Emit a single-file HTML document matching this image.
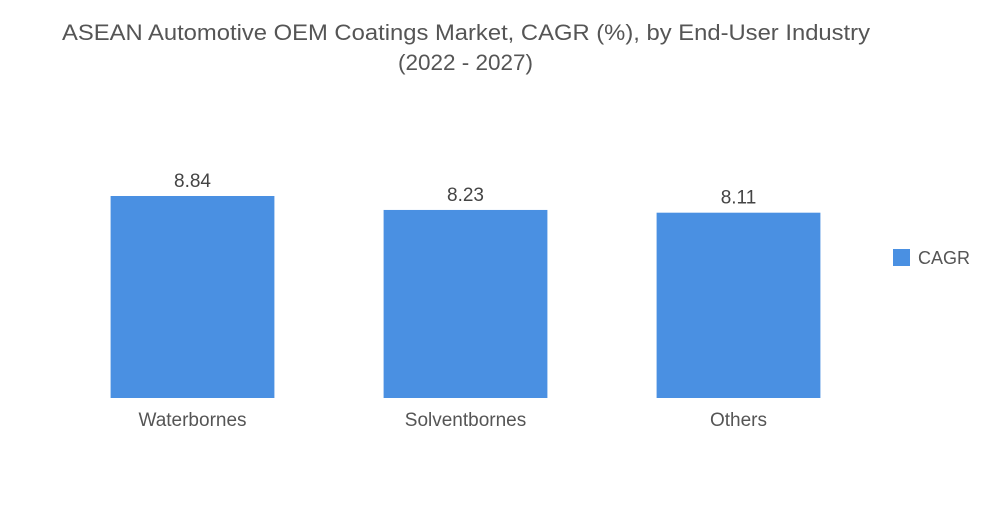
<!DOCTYPE html>
<html><head><meta charset="utf-8"><style>
body{margin:0;background:#fff;width:1000px;height:504px;overflow:hidden;font-family:"Liberation Sans",sans-serif;}
</style></head><body>
<svg width="1000" height="504">
<text x="62" y="40" textLength="808" lengthAdjust="spacingAndGlyphs" font-size="22" fill="#555">ASEAN Automotive OEM Coatings Market, CAGR (%), by End-User Industry</text>
<text x="398" y="70" textLength="135" lengthAdjust="spacingAndGlyphs" font-size="22" fill="#555">(2022 - 2027)</text>
<g id="bars"></g>
<rect x="893" y="249" width="17" height="17" fill="#4a90e2"/>
<text x="918" y="264" font-size="18" fill="#555">CAGR</text>
</svg>
<script>
const categories=["Waterbornes","Solventbornes","Others"];
const values=[8.84,8.23,8.11];
const x0=56,bandW=273,base=398,scale=22.85;
function xPos(i){return x0+bandW*i;}
function yPos(v){return base-v*scale;}
const g=document.getElementById('bars');
const ns="http://www.w3.org/2000/svg";
categories.forEach((c,i)=>{
  const bw=bandW*0.6, x=xPos(i)+(bandW-bw)/2, y=yPos(values[i]);
  const r=document.createElementNS(ns,'rect');
  r.setAttribute('x',x);r.setAttribute('y',y);r.setAttribute('width',bw);r.setAttribute('height',base-y);r.setAttribute('fill','#4a90e2');
  
  
  g.appendChild(r);
  const t=document.createElementNS(ns,'text');
  t.setAttribute('x',xPos(i)+bandW/2);t.setAttribute('y',y-9);t.setAttribute('text-anchor','middle');t.setAttribute('font-size','19');t.setAttribute('fill','#444');
  t.textContent=values[i].toFixed(2);
  
  
  g.appendChild(t);
  const l=document.createElementNS(ns,'text');
  l.setAttribute('x',xPos(i)+bandW/2);l.setAttribute('y',426);l.setAttribute('text-anchor','middle');l.setAttribute('font-size','19');l.setAttribute('fill','#555');
  l.textContent=c;
  
  
  g.appendChild(l);
});
</script>
</body></html>
